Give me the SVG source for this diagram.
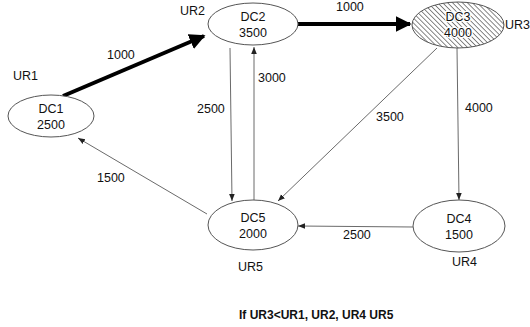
<svg xmlns="http://www.w3.org/2000/svg" width="530" height="327" viewBox="0 0 530 327">
<defs>
<style>
text{font-family:"Liberation Sans",Arial,sans-serif;font-size:12.5px;fill:#111}
.node{fill:#fff;stroke:#555;stroke-width:1}
.thin{stroke:#444;stroke-width:0.8;fill:none}
.thick{stroke:#000;stroke-width:4;fill:none}
.c{text-anchor:middle}
.b{font-weight:bold;font-size:12px}
.halo{stroke:#fff;stroke-width:2.5;paint-order:stroke;stroke-linejoin:round}
</style>
<marker id="a" viewBox="0 0 10 10" refX="10" refY="5" markerWidth="7" markerHeight="7" markerUnits="userSpaceOnUse" orient="auto"><path d="M0,1 L10,5 L0,9 z" fill="#222"/></marker>
<marker id="A" viewBox="0 0 10 10" refX="9" refY="5" markerWidth="4" markerHeight="4" orient="auto"><path d="M0,0 L10,5 L0,10 z" fill="#000"/></marker>
<pattern id="h" patternUnits="userSpaceOnUse" width="3.5" height="3.5" patternTransform="rotate(45)"><rect width="3.5" height="3.5" fill="#fff"/><line x1="0" y1="0" x2="3.5" y2="0" stroke="#555" stroke-width="1.4"/></pattern>
</defs>
<rect width="530" height="327" fill="#fff"/>
<g id="connectors">
<line class="thick" x1="63" y1="96" x2="204" y2="36" marker-end="url(#A)"/>
<line class="thick" x1="298" y1="24" x2="410" y2="24" marker-end="url(#A)"/>
<line class="thin" x1="230" y1="48" x2="232" y2="201" marker-end="url(#a)"/>
<line class="thin" x1="254" y1="200" x2="254" y2="47" marker-end="url(#a)"/>
<line class="thin" x1="437" y1="48" x2="278" y2="201" marker-end="url(#a)"/>
<line class="thin" x1="457" y1="48" x2="459" y2="200" marker-end="url(#a)"/>
<line class="thin" x1="413" y1="227" x2="298" y2="226" marker-end="url(#a)"/>
<line class="thin" x1="207" y1="214" x2="78" y2="138" marker-end="url(#a)"/>
<text x="336" y="11">1000</text>
<text x="107" y="59">1000</text>
<text x="258" y="82">3000</text>
<text x="197" y="113">2500</text>
<text x="376" y="121">3500</text>
<text x="465" y="112">4000</text>
<text x="97" y="182">1500</text>
<text x="343" y="239">2500</text>
</g>
<g id="DC1"><ellipse class="node" cx="51" cy="116" rx="43" ry="21"/><text class="c" x="51" y="113">DC1</text><text class="c" x="51" y="129">2500</text><text x="13" y="80">UR1</text></g>
<g id="DC2"><ellipse class="node" cx="253" cy="24" rx="45" ry="21"/><text class="c" x="253" y="21">DC2</text><text class="c" x="253" y="37">3500</text><text x="180" y="15">UR2</text></g>
<g id="DC3"><ellipse cx="458" cy="25" rx="46" ry="23" fill="url(#h)" stroke="#555"/><text class="c halo" x="458" y="21">DC3</text><text class="c halo" x="458" y="37">4000</text><text x="505" y="29">UR3</text></g>
<g id="DC4"><ellipse class="node" cx="459" cy="226" rx="46" ry="26"/><text class="c" x="459" y="223">DC4</text><text class="c" x="459" y="239">1500</text><text x="452" y="266">UR4</text></g>
<g id="DC5"><ellipse class="node" cx="253" cy="225" rx="45" ry="25"/><text class="c" x="253" y="222">DC5</text><text class="c" x="253" y="238">2000</text><text x="238" y="271">UR5</text></g>
<text class="b" x="239" y="319">If UR3&lt;UR1, UR2, UR4 UR5</text>
</svg>
